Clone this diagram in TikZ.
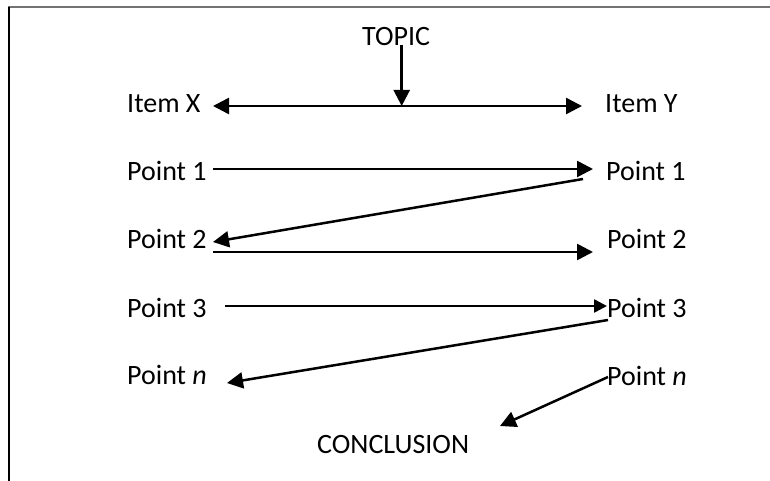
\documentclass[tikz,border=0pt]{standalone}
\usepackage{fontspec}
\setmainfont{Carlito}
\usetikzlibrary{arrows.meta}
\begin{document}
\begin{tikzpicture}[x=1pt,y=-1pt,
  lbl/.style={anchor=base west,inner sep=0pt,font=\fontsize{28}{30}\selectfont},
  conn/.style={line width=2.5pt,-{Triangle[length=16pt,width=16pt]}},
  connsmall/.style={line width=2.5pt,-{Triangle[length=13pt,width=13pt]}},
  both/.style={line width=2.5pt,{Triangle[length=16pt,width=16pt]}-{Triangle[length=16pt,width=16pt]}}]
\useasboundingbox (0,0) rectangle (770,481);
% frame
\draw[line width=2pt,black!55] (8,7) -- (770,7);
\draw[line width=1.5pt] (9,7) -- (9,481);

% texts
\node[lbl] (topic) at (362,46) {TOPIC};
\node[lbl] (itx) at (127,113) {Item X};
\node[lbl] (ity) at (605,113) {Item Y};
\node[lbl] (l1) at (127,180) {Point 1};
\node[lbl] (r1) at (606,180) {Point 1};
\node[lbl] (l2) at (127,248) {Point 2};
\node[lbl] (r2) at (607,248) {Point 2};
\node[lbl] (l3) at (127,317) {Point 3};
\node[lbl] (r3) at (607,317) {Point 3};
\node[lbl] (ln) at (127,384) {Point \textit{n}};
\node[lbl] (rn) at (607,385) {Point \textit{n}};
\node[lbl] (concl) at (317,453) {CONCLUSION};

% connector end points
\coordinate (tA) at (401.7,45);
\coordinate (tB) at (401.7,106);
\coordinate (xA) at (213,106);
\coordinate (yA) at (582,106);
\coordinate (l1e) at (213,169);
\coordinate (r1w) at (593,169);
\coordinate (r1d) at (583,179);
\coordinate (l2e) at (213,242);
\coordinate (l2b) at (213,252);
\coordinate (r2w) at (593,252);
\coordinate (l3e) at (225,306);
\coordinate (r3w) at (607,306);
\coordinate (r3d) at (608,320);
\coordinate (lne) at (227,383);
\coordinate (rnd) at (608,377);
\coordinate (cne) at (500,426);

% connectors
\draw[both] (xA) -- (yA);
\draw[conn] (tA) -- (tB);
\draw[conn] (l1e) -- (r1w);
\draw[conn] (r1d) -- (l2e);
\draw[conn] (l2b) -- (r2w);
\draw[connsmall] (l3e) -- (r3w);
\draw[conn] (r3d) -- (lne);
\draw[conn] (rnd) -- (cne);
\end{tikzpicture}
\end{document}
